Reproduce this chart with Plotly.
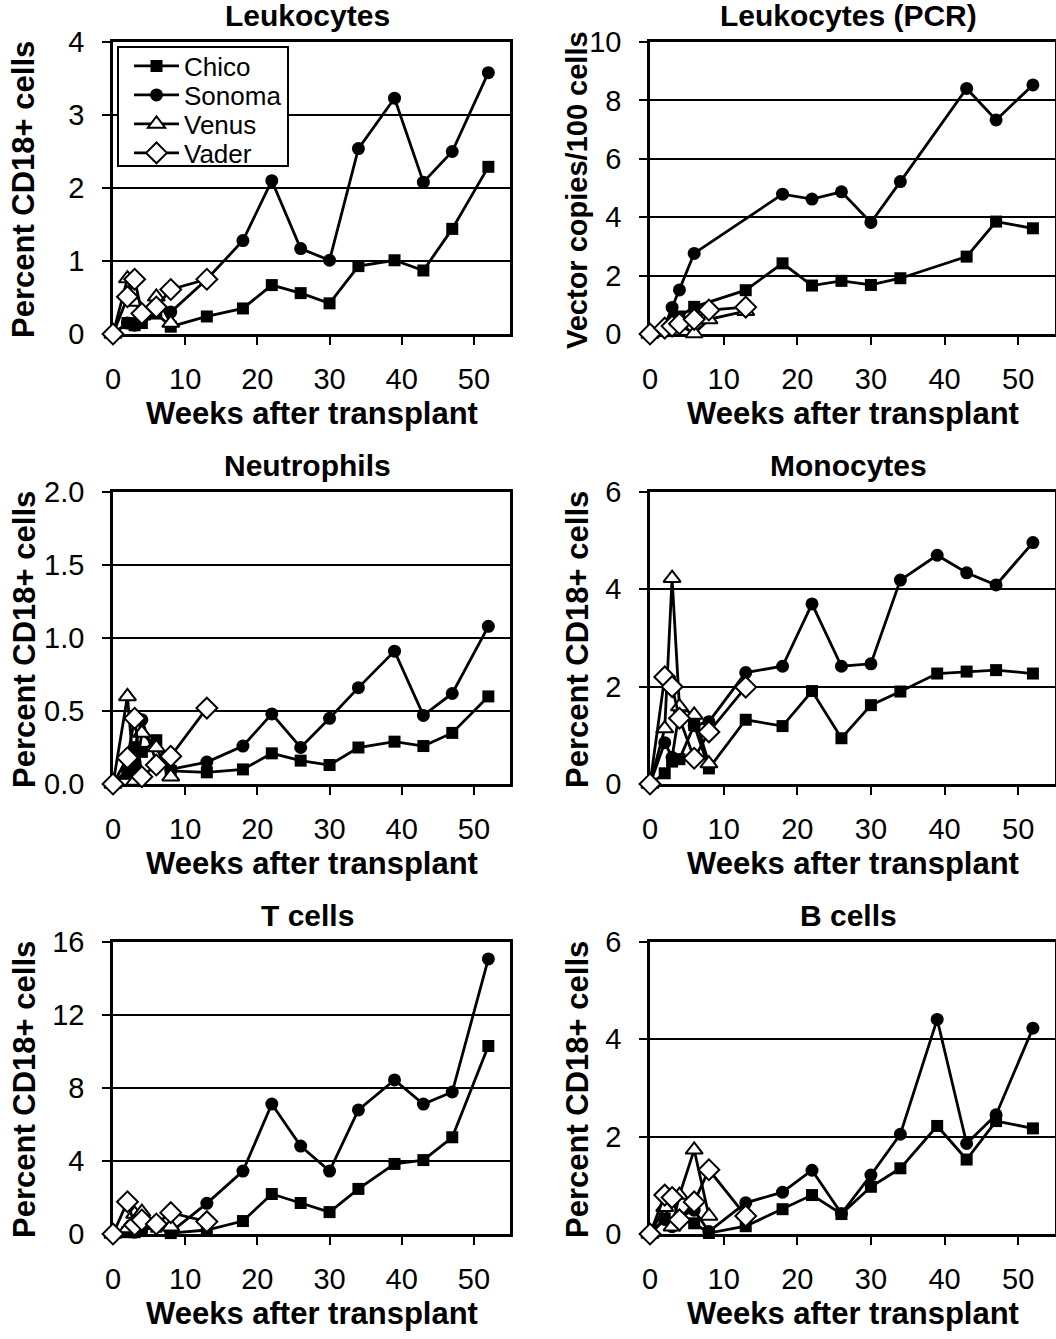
import plotly.graph_objects as go

# ---------------- data ----------------
weeks_main = [0, 2, 3, 4, 6, 8, 13, 18, 22, 26, 30, 34, 39, 43, 47, 52]
weeks_venus = [0, 2, 3, 4, 6, 8]
weeks_vader = [0, 2, 3, 4, 6, 8, 13]

# Leukocytes (flow)
leuk_chico = [0, 0.15, 0.12, 0.15, 0.28, 0.1, 0.24, 0.35, 0.67, 0.56, 0.42, 0.93, 1.01, 0.87, 1.44, 2.29]
leuk_sonoma = [0, 0.15, 0.12, 0.2, 0.35, 0.3, 0.75, 1.28, 2.1, 1.17, 1.01, 2.54, 3.23, 2.08, 2.5, 3.58]
leuk_venus = [0, 0.76, 0.44, 0.25, 0.51, 0.15]
leuk_vader = [0, 0.51, 0.75, 0.28, 0.37, 0.61, 0.75]

# Leukocytes (PCR)
pcr_weeks_chico = [0, 2, 3, 4, 6, 13, 18, 22, 26, 30, 34, 43, 47, 52]
pcr_weeks_sonoma = [0, 2, 3, 4, 6, 18, 22, 26, 30, 34, 43, 47, 52]
pcr_weeks_small = [0, 2, 3, 4, 6, 8, 13]
pcr_chico = [0, 0.1, 0.3, 0.6, 0.93, 1.5, 2.42, 1.66, 1.82, 1.68, 1.91, 2.65, 3.85, 3.62]
pcr_sonoma = [0, 0.27, 0.91, 1.51, 2.76, 4.79, 4.62, 4.87, 3.82, 5.22, 8.41, 7.33, 8.53]
pcr_venus = [0, 0.15, 0.45, 0.3, 0.02, 0.5, 0.78]
pcr_vader = [0, 0.2, 0.27, 0.35, 0.5, 0.82, 0.92]

# Neutrophils
neut_chico = [0, 0.07, 0.12, 0.22, 0.3, 0.09, 0.08, 0.1, 0.21, 0.16, 0.13, 0.25, 0.29, 0.26, 0.35, 0.6]
neut_sonoma = [0, 0.1, 0.25, 0.44, 0.15, 0.1, 0.15, 0.26, 0.48, 0.25, 0.45, 0.66, 0.91, 0.47, 0.62, 1.08]
neut_venus = [0, 0.6, 0.02, 0.35, 0.25, 0.05]
neut_vader = [0, 0.18, 0.45, 0.05, 0.13, 0.19, 0.52]

# Monocytes
mono_chico = [0, 0.22, 0.46, 0.51, 1.21, 0.32, 1.32, 1.19, 1.91, 0.94, 1.62, 1.9, 2.27, 2.31, 2.34, 2.27]
mono_sonoma = [0, 0.85, 0.55, 1.5, 1.2, 1.28, 2.29, 2.42, 3.7, 2.42, 2.47, 4.19, 4.7, 4.34, 4.09, 4.96]
mono_venus = [0, 1.14, 4.23, 1.59, 1.42, 0.42]
mono_vader = [0, 2.2, 2.0, 1.35, 0.53, 1.07, 1.99]

# T cells
tc_chico = [0, 0.1, 0.1, 0.2, 0.4, 0.05, 0.22, 0.71, 2.19, 1.7, 1.2, 2.47, 3.84, 4.05, 5.3, 10.3]
tc_sonoma = [0, 0.2, 0.1, 0.3, 0.5, 0.1, 1.68, 3.45, 7.12, 4.82, 3.45, 6.8, 8.44, 7.12, 7.78, 15.07]
tc_venus = [0, 0.3, 1.1, 1.2, 0.5, 0.4]
tc_vader = [0, 1.77, 0.49, 0.77, 0.55, 1.17, 0.68]

# B cells
bc_chico = [0, 0.32, 0.2, 0.3, 0.22, 0.02, 0.16, 0.51, 0.8, 0.41, 0.97, 1.35, 2.22, 1.53, 2.32, 2.17]
bc_sonoma = [0, 0.3, 0.15, 0.35, 0.49, 0.05, 0.64, 0.86, 1.31, 0.42, 1.21, 2.05, 4.41, 1.86, 2.45, 4.23]
bc_venus = [0, 0.55, 0.15, 0.8, 1.73, 0.37]
bc_vader = [0, 0.8, 0.75, 0.29, 0.66, 1.32, 0.37]

panel_titles = ["Leukocytes", "Leukocytes (PCR)", "Neutrophils", "Monocytes", "T cells", "B cells"]
y_titles = ["Percent CD18+ cells", "Vector copies/100 cells", "Percent CD18+ cells",
            "Percent CD18+ cells", "Percent CD18+ cells", "Percent CD18+ cells"]
y_max = [4, 10, 2.0, 6, 16, 6]
y_step = [1, 2, 0.5, 2, 4, 2]
x_ticks = [0, 10, 20, 30, 40, 50]
x_title = "Weeks after transplant"
names = ["Chico", "Sonoma", "Venus", "Vader"]

panels = [
    [(weeks_main, leuk_chico), (weeks_main, leuk_sonoma), (weeks_venus, leuk_venus), (weeks_vader, leuk_vader)],
    [(pcr_weeks_chico, pcr_chico), (pcr_weeks_sonoma, pcr_sonoma), (pcr_weeks_small, pcr_venus), (pcr_weeks_small, pcr_vader)],
    [(weeks_main, neut_chico), (weeks_main, neut_sonoma), (weeks_venus, neut_venus), (weeks_vader, neut_vader)],
    [(weeks_main, mono_chico), (weeks_main, mono_sonoma), (weeks_venus, mono_venus), (weeks_vader, mono_vader)],
    [(weeks_main, tc_chico), (weeks_main, tc_sonoma), (weeks_venus, tc_venus), (weeks_vader, tc_vader)],
    [(weeks_main, bc_chico), (weeks_main, bc_sonoma), (weeks_venus, bc_venus), (weeks_vader, bc_vader)],
]

# ---------------- style ----------------
W, H = 1056, 1339
FONT = "Liberation Sans, Arial, sans-serif"
markers = {
    "Chico": dict(symbol="square", size=12, color="black", line=dict(width=0)),
    "Sonoma": dict(symbol="circle", size=13, color="black", line=dict(width=0)),
    "Venus": dict(symbol="triangle-up", size=15, color="white", line=dict(color="black", width=2)),
    "Vader": dict(symbol="diamond", size=16, color="white", line=dict(color="black", width=2)),
}
legend_ids = {"Chico": "legend", "Sonoma": "legend2", "Venus": "legend3", "Vader": "legend4"}
legend_row_px = {"Chico": 66, "Sonoma": 95, "Venus": 124, "Vader": 153}

col_px = [(113, 510), (650, 1055)]


def row_px(r):
    return 42 + 450 * r, 334 + 450 * r


fig = go.Figure()
annotations = []
layout = {}

for i, series in enumerate(panels):
    r, c = divmod(i, 2)
    ax = "" if i == 0 else str(i + 1)
    x0, x1 = col_px[c]
    top, bot = row_px(r)
    xdom = [x0 / W, x1 / W]
    ydom = [1 - bot / H, 1 - top / H]

    for name, (xs, ys) in zip(names, series):
        fig.add_trace(go.Scatter(
            x=xs, y=ys, mode="lines+markers", name=name,
            legendgroup=name, showlegend=(i == 0), legend=legend_ids[name],
            line=dict(color="black", width=2.8),
            marker=markers[name], cliponaxis=False,
            xaxis="x" + ax, yaxis="y" + ax,
        ))

    layout["xaxis" + ax] = dict(
        domain=xdom, anchor="y" + ax, range=[0, 55], automargin=False,
        tickmode="array", tickvals=x_ticks, ticks="outside", ticklen=8,
        tickwidth=2, tickcolor="black", showline=True, linecolor="black",
        linewidth=2.5, mirror=True, showgrid=False, zeroline=False,
        tickfont=dict(family=FONT, size=29, color="black"),
        ticklabelstandoff=9, layer="below traces", fixedrange=True,
    )
    nt = int(round(y_max[i] / y_step[i]))
    yvals = [round(k * y_step[i], 3) for k in range(nt + 1)]
    layout["yaxis" + ax] = dict(
        domain=ydom, anchor="x" + ax, range=[0, y_max[i]], automargin=False,
        tickmode="array", tickvals=yvals,
        ticktext=[("%.1f" % v) if i == 2 else ("%g" % v) for v in yvals],
        ticks="outside", ticklen=8, tickwidth=2, tickcolor="black",
        showline=True, linecolor="black", linewidth=2.5, mirror=True,
        showgrid=True, gridcolor="black", gridwidth=2, zeroline=False,
        tickfont=dict(family=FONT, size=29, color="black"),
        ticklabelstandoff=12, layer="below traces", fixedrange=True,
    )

    cx = (x0 + x1) / 2
    annotations.append(dict(
        text="<b>%s</b>" % panel_titles[i], xref="paper", yref="paper",
        x=(cx - 4) / W, y=1 - (top - 27) / H, xanchor="center", yanchor="middle",
        showarrow=False, font=dict(family=FONT, size=30, color="black"),
    ))
    annotations.append(dict(
        text="<b>%s</b>" % x_title, xref="paper", yref="paper",
        x=cx / W, y=1 - (bot + 79) / H, xanchor="center", yanchor="middle",
        showarrow=False, font=dict(family=FONT, size=31, color="black"),
    ))
    yx = 24 if c == 0 else 577
    yfs = 29 if i == 1 else 31
    annotations.append(dict(
        text="<b>%s</b>" % y_titles[i], xref="paper", yref="paper",
        x=yx / W, y=1 - ((top + bot) / 2 + 2) / H, xanchor="center", yanchor="middle",
        textangle=-90, showarrow=False, font=dict(family=FONT, size=yfs, color="black"),
    ))

# legends: one per series so the row spacing can match the reference
for name in names:
    layout[legend_ids[name]] = dict(
        x=129 / W, y=1 - legend_row_px[name] / H, xanchor="left", yanchor="middle",
        bgcolor="rgba(0,0,0,0)", borderwidth=0,
        font=dict(family=FONT, size=26, color="black"),
        itemwidth=45, tracegroupgap=0,
    )

legend_box = dict(
    type="rect", xref="paper", yref="paper",
    x0=118 / W, x1=288 / W, y0=1 - 166 / H, y1=1 - 47 / H,
    line=dict(color="black", width=2), fillcolor="white", layer="above",
)

fig.update_layout(
    template="none",
    width=W, height=H, margin=dict(l=0, r=0, t=0, b=0, pad=0, autoexpand=False),
    paper_bgcolor="white", plot_bgcolor="white",
    annotations=annotations, shapes=[legend_box],
    **layout,
)

fig.write_html(
    "out.html",
    config={"displayModeBar": False},
    post_script="document.body.style.margin='0px';document.body.style.padding='0px';document.body.style.overflow='hidden';",
)
